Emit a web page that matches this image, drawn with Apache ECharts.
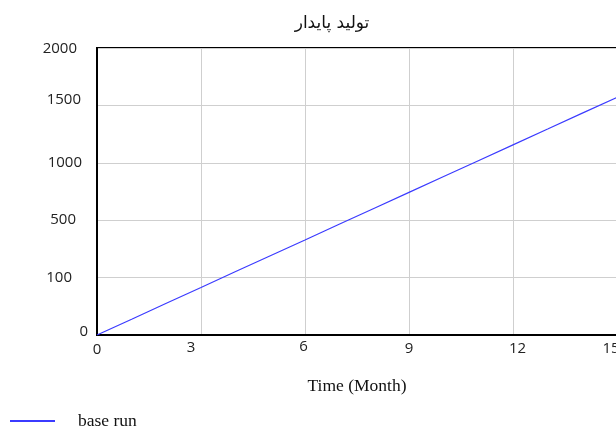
<!DOCTYPE html>
<html><head><meta charset="utf-8">
<script src="https://cdn.jsdelivr.net/npm/echarts@6/dist/echarts.min.js"></script>
<style>html,body{margin:0;padding:0;background:#fff}#c{width:616px;height:427px}</style>
</head><body><div id="c"></div>
<script>
var months = [0,1,2,3,4,5,6,7,8,9,10,11,12,13,14,15];
var baseRun = [0,110,221,331,442,552,662,773,883,994,1104,1214,1325,1435,1546,1656];
var yTickLabels = ["0","100","500","1000","1500","2000"];
var xTickLabels = ["0","3","6","9","12","15"];
var titleText = "تولید پایدار";
var seriesName = "base run";
var xName = "Time (Month)";

// per-label padding [top,right,bottom,left] to mimic the reference's label placement
var yLabelPad = [[0,0,6,0],[0,16,0,0],[0,12,0,0],[0,6,0,0],[0,7,12,0],[2,11,0,0]];
var xLabelPad = [[3,0,0,0],[1,20,0,0],[0,3,0,0],[2,0,0,0],[2,0,0,9],[2,12,0,0]];
var richY = {}, richX = {};
yLabelPad.forEach(function(p,i){
  richY['y'+i] = {fontFamily:'Open Sans',fontSize:15,color:'#222',padding:p};
});
xLabelPad.forEach(function(p,i){
  richX['x'+i] = {fontFamily:'Open Sans',fontSize:15,color:'#222',padding:p};
});

var chart = echarts.init(document.getElementById('c'), null, {renderer:'canvas'});
chart.setOption({
  animation:false,
  backgroundColor:'#fff',
  title:{text:titleText,left:327,textAlign:'center',top:10,textStyle:{fontFamily:'DejaVu Sans',fontSize:17,fontWeight:'normal',color:'#111'}},
  grid:{left:97,top:48,width:520,height:287,show:true,borderColor:'#000',borderWidth:2,containLabel:false,outerBoundsMode:'none'},
  legend:{left:5,top:407,itemWidth:45,itemHeight:2,icon:'rect',itemGap:10,
    textStyle:{fontFamily:'Liberation Serif',fontSize:17.5,color:'#111',padding:[0,0,0,18]},
    data:[seriesName]},
  xAxis:{type:'value',min:0,max:15,interval:3,name:xName,nameLocation:'middle',nameGap:42,
    nameTextStyle:{fontFamily:'Liberation Serif',fontSize:17.5,color:'#111'},
    axisLine:{show:true,lineStyle:{color:'#000',width:2}},axisTick:{show:false},
    axisLabel:{fontFamily:'Open Sans',fontSize:15,color:'#222',margin:4,verticalAlign:'top',rich:richX,
      formatter:function(v){var i=Math.round(v/3);return '{x'+i+'|'+xTickLabels[i]+'}';}},
    splitLine:{show:true,lineStyle:{color:'#cfcfcf',width:1}}},
  yAxis:{type:'value',min:0,max:2000,interval:400,
    axisLine:{show:true,lineStyle:{color:'#000',width:2}},axisTick:{show:false},
    axisLabel:{fontFamily:'Open Sans',fontSize:15,color:'#222',margin:9,verticalAlign:'middle',rich:richY,
      formatter:function(v){var i=Math.round(v/400);return '{y'+i+'|'+yTickLabels[i]+'}';}},
    splitLine:{show:true,lineStyle:{color:'#cfcfcf',width:1}}},
  series:[{name:seriesName,type:'line',showSymbol:false,symbol:'none',
    lineStyle:{color:'#3b3bff',width:1.2},itemStyle:{color:'#3b3bff'},
    data:months.map(function(m,i){return [m,baseRun[i]];})}]
});
</script></body></html>
